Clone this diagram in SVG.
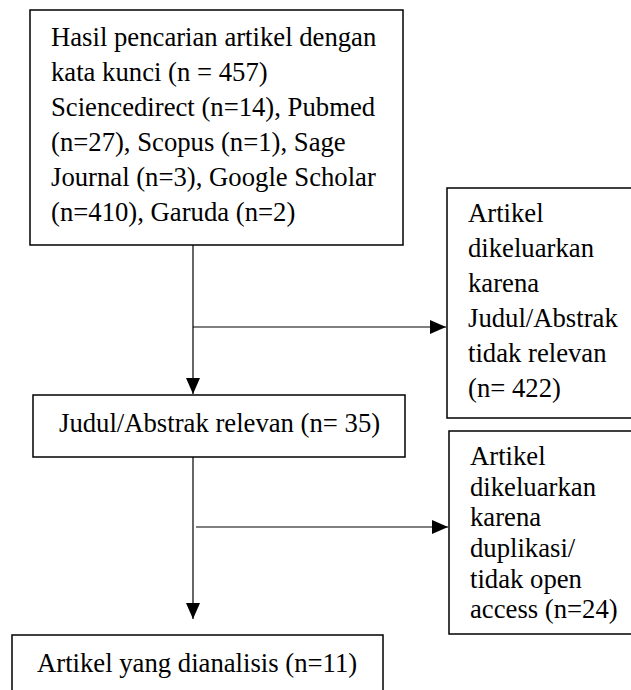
<svg xmlns="http://www.w3.org/2000/svg" width="631" height="690" viewBox="0 0 631 690">
<defs>
<style>
.box{fill:#fff;stroke:#000;stroke-width:1.5}
.t{font-family:"Liberation Serif","Times New Roman",serif;font-size:26.7px;fill:#000}
.c{stroke:#000;stroke-width:1.2;fill:none}
</style>
<marker id="ah" markerUnits="userSpaceOnUse" markerWidth="16" markerHeight="16" viewBox="0 0 16 16" refX="16" refY="8" orient="auto">
<path d="M0,1 L16,8 L0,15 Z" fill="#000"/>
</marker>
</defs>
<rect width="631" height="690" fill="#fff"/>
<g id="connectors">
<line class="c" x1="193" y1="245" x2="193" y2="394" marker-end="url(#ah)"/>
<line class="c" x1="193" y1="327" x2="446" y2="327" marker-end="url(#ah)"/>
<line class="c" x1="193" y1="457" x2="193" y2="619" marker-end="url(#ah)"/>
<line class="c" x1="196" y1="527" x2="448" y2="527" marker-end="url(#ah)"/>
</g>
<g id="n1">
<rect class="box" x="30" y="10" width="373" height="235"/>
<text class="t" x="51" y="46">Hasil pencarian artikel dengan</text>
<text class="t" x="51" y="81">kata kunci (n = 457)</text>
<text class="t" x="51" y="116">Sciencedirect (n=14), Pubmed</text>
<text class="t" x="51" y="151">(n=27), Scopus (n=1), Sage</text>
<text class="t" x="51" y="186">Journal (n=3), Google Scholar</text>
<text class="t" x="51" y="221">(n=410), Garuda (n=2)</text>
</g>
<g id="n2">
<rect class="box" x="447" y="188" width="200" height="230"/>
<text class="t" x="468" y="222">Artikel</text>
<text class="t" x="468" y="257">dikeluarkan</text>
<text class="t" x="468" y="292">karena</text>
<text class="t" x="468" y="327">Judul/Abstrak</text>
<text class="t" x="468" y="362">tidak relevan</text>
<text class="t" x="468" y="397">(n= 422)</text>
</g>
<g id="n3">
<rect class="box" x="33" y="395" width="372" height="62"/>
<text class="t" x="59" y="432">Judul/Abstrak relevan (n= 35)</text>
</g>
<g id="n4">
<rect class="box" x="449" y="431" width="200" height="203"/>
<text class="t" x="470" y="465">Artikel</text>
<text class="t" x="470" y="496">dikeluarkan</text>
<text class="t" x="470" y="526">karena</text>
<text class="t" x="470" y="557">duplikasi/</text>
<text class="t" x="470" y="588">tidak open</text>
<text class="t" x="470" y="618">access (n=24)</text>
</g>
<g id="n5">
<rect class="box" x="12" y="635" width="371" height="70"/>
<text class="t" x="37" y="672">Artikel yang dianalisis (n=11)</text>
</g>
</svg>
